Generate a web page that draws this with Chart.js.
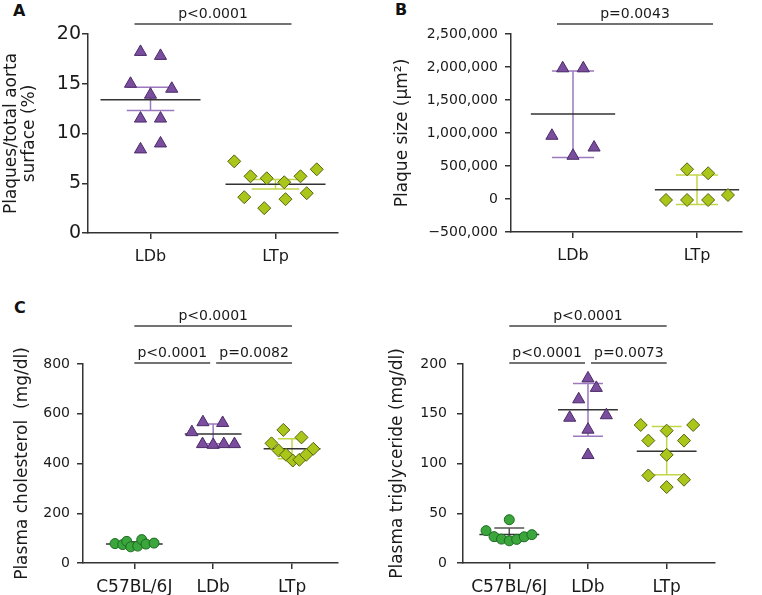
<!DOCTYPE html>
<html>
<head>
<meta charset="utf-8">
<script src="https://cdn.jsdelivr.net/npm/chart.js@4.4.1/dist/chart.umd.min.js"></script>
<style>
  body { margin: 0; background: #fff; width: 762px; height: 595px; position: relative; overflow: hidden; }
  canvas { position: absolute; }
  .lab { position: absolute; font-family: 'DejaVu Sans', sans-serif; font-weight: bold; font-size: 16px; line-height: 16px; color: #111; }
</style>
</head>
<body>
<div class="lab" style="left:13px;top:3px">A</div>
<div class="lab" style="left:395px;top:2px">B</div>
<div class="lab" style="left:14px;top:300px">C</div>
<canvas id="chartA" width="380" height="290" style="left:0;top:0"></canvas>
<canvas id="chartB" width="382" height="290" style="left:380px;top:0"></canvas>
<canvas id="chartC" width="380" height="305" style="left:0;top:290px"></canvas>
<canvas id="chartD" width="382" height="305" style="left:380px;top:290px"></canvas>
<script>
// group names on the x axes
const groupsAB = ['LDb', 'LTp'];
const groupsCD = ['C57BL/6J', 'LDb', 'LTp'];

// A - plaques / total aorta surface (%)
const aLDb = [18.2, 17.8, 15.0, 14.5, 13.9, 11.5, 11.5, 8.4, 9.0];
const aLDbJit = [-0.08, 0.08, -0.16, 0.17, 0, -0.08, 0.08, -0.08, 0.08];
const aLTp = [7.2, 5.7, 5.5, 5.1, 5.7, 6.4, 3.6, 2.5, 3.4, 4.0];
const aLTpJit = [-0.33, -0.2, -0.07, 0.07, 0.2, 0.33, -0.25, -0.09, 0.08, 0.25];
const aMean = [13.4, 4.9];
const aErr = [[12.3, 14.65], [4.43, 5.37]];   // mean +/- SEM
const sigA = [{from: 1, to: 2, level: 0, text: 'p<0.0001'}];

// B - plaque size (um2)
const bLDb = [1980000, 1980000, 958000, 655000, 780000];
const bLDbJit = [-0.083, 0.083, -0.17, 0, 0.17];
const bLTp = [-15000, -15000, -15000, 60000, 450000, 390000];
const bLTpJit = [-0.25, -0.08, 0.09, 0.25, -0.08, 0.09];
const bMean = [1286000, 140000];
const bErr = [[630000, 1940000], [-82000, 363000]];   // mean +/- SD
const sigB = [{from: 1, to: 2, level: 0, text: 'p=0.0043'}];

// C - plasma cholesterol (mg/dl)
const cC57 = [78, 74, 87, 65, 68, 94, 76, 80];
const cC57Jit = [-0.245, -0.147, -0.096, -0.046, 0.043, 0.094, 0.148, 0.25];
const cLDb = [526, 566, 563, 478, 475, 478, 478];
const cLDbJit = [-0.27, -0.13, 0.12, -0.135, 0, 0.135, 0.27];
const cLTp = [535, 481, 505, 452, 435, 412, 415, 435, 459];
const cLTpJit = [-0.11, -0.26, 0.12, -0.17, -0.076, 0.01, 0.093, 0.18, 0.27];
const cMean = [76, 519, 459];
const cErr = [[68, 85], [479, 559], [419, 499]];
const sigC = [
  {from: 1, to: 3, level: 1, text: 'p<0.0001'},
  {from: 1, to: 2, level: 0, text: 'p<0.0001'},
  {from: 2, to: 3, level: 0, text: 'p=0.0082'}
];

// D - plasma triglyceride (mg/dl)
const dC57 = [43.5, 32.5, 26.5, 24, 22.3, 23.7, 26.3, 28.5];
const dC57Jit = [0, -0.295, -0.194, -0.099, 0, 0.094, 0.19, 0.287];
const dLDb = [185.5, 176, 164.5, 146, 148.5, 134, 108.5];
const dLDbJit = [0, 0.106, -0.118, -0.232, 0.233, 0, 0];
const dLTp = [138.7, 138.7, 133, 123, 123, 108.7, 88, 83.7, 76.3];
const dLTpJit = [-0.33, 0.337, 0, -0.233, 0.22, 0, -0.233, 0.22, 0];
const dMean = [28.7, 154, 112.3];
const dErr = [[22, 35.3], [127.3, 180.3], [88.7, 137.3]];
const sigD = [
  {from: 1, to: 3, level: 1, text: 'p<0.0001'},
  {from: 1, to: 2, level: 0, text: 'p<0.0001'},
  {from: 2, to: 3, level: 0, text: 'p=0.0073'}
];

Chart.defaults.font.family = "'DejaVu Sans', sans-serif";
Chart.defaults.color = '#1a1a1a';

const look = {
  'LDb':      {style: 'triangle', r: 7,   fill: '#7b4d9e', edge: '#4a2b66', bar: '#9c78bf'},
  'LTp':      {style: 'rectRot',  r: 6.5, fill: '#aac61b', edge: '#56620f', bar: '#c3d648'},
  'C57BL/6J': {style: 'circle',   r: 5,   fill: '#3aa63b', edge: '#1d6a22', bar: '#555555'}
};

// significance brackets, drawn above the plot area
const sigPlugin = {
  id: 'sig',
  afterDraw(chart, args, opts) {
    const {ctx, chartArea} = chart;
    const x = chart.scales.x;
    ctx.save();
    ctx.strokeStyle = '#444';
    ctx.lineWidth = 1.5;
    ctx.fillStyle = '#1a1a1a';
    ctx.font = opts.size + "px 'DejaVu Sans', sans-serif";
    ctx.textAlign = 'center';
    ctx.textBaseline = 'alphabetic';
    opts.items.forEach(s => {
      const others = opts.items.filter(o => o !== s && o.level === s.level);
      let x1 = x.getPixelForValue(s.from) - opts.ext;
      let x2 = x.getPixelForValue(s.to) + opts.ext;
      if (others.some(o => o.to === s.from)) x1 += opts.gap;
      if (others.some(o => o.from === s.to)) x2 -= opts.gap;
      const y = chartArea.top - opts.rows[s.level];
      ctx.beginPath();
      ctx.moveTo(x1, y);
      ctx.lineTo(x2, y);
      ctx.stroke();
      ctx.fillText(s.text, (x1 + x2) / 2, y - 6);
    });
    ctx.restore();
  }
};

function buildDatasets(groups, values, jitters, means, errs, meanHalf, capHalf) {
  const sets = [];
  groups.forEach((g, i) => {
    const pos = i + 1;
    const st = look[g];
    const lo = errs[i][0], hi = errs[i][1];
    sets.push({
      data: [
        {x: pos - capHalf, y: hi}, {x: pos + capHalf, y: hi}, {x: pos, y: null},
        {x: pos, y: hi}, {x: pos, y: lo}, {x: pos, y: null},
        {x: pos - capHalf, y: lo}, {x: pos + capHalf, y: lo}
      ],
      showLine: true, spanGaps: false, borderColor: st.bar, borderWidth: 1.5,
      pointRadius: 0, order: 3
    });
    sets.push({
      data: [{x: pos - meanHalf, y: means[i]}, {x: pos + meanHalf, y: means[i]}],
      showLine: true, borderColor: '#333', borderWidth: 1.5, pointRadius: 0, order: 2
    });
    sets.push({
      data: values[i].map((v, k) => ({x: pos + jitters[i][k], y: v})),
      showLine: false, pointStyle: st.style, pointRadius: st.r,
      backgroundColor: st.fill, borderColor: st.edge, borderWidth: 1, order: 1
    });
  });
  return sets;
}

function panel(id, o) {
  const axisLine = {color: '#333', width: 1.5};
  const tickGrid = {drawOnChartArea: false, drawTicks: true, tickLength: 6, color: '#333', lineWidth: 1.5};
  return new Chart(document.getElementById(id), {
    type: 'scatter',
    data: {datasets: o.datasets},
    options: {
      responsive: false,
      animation: false,
      devicePixelRatio: 1,
      layout: {autoPadding: false, padding: o.pad},
      plugins: {
        legend: {display: false},
        tooltip: {enabled: false},
        sig: {items: o.sig, rows: o.rows, ext: o.ext, gap: 3, size: 14}
      },
      scales: {
        x: {
          type: 'linear', min: o.xMin, max: o.xMax,
          afterFit: s => { s.height = o.xH; },
          afterBuildTicks: s => { s.ticks = o.groups.map((g, i) => ({value: i + 1})); },
          grid: tickGrid,
          border: axisLine,
          ticks: {
            autoSkip: false, maxRotation: 0, padding: 8,
            font: {size: o.xFont},
            callback: v => o.groups[v - 1]
          }
        },
        y: {
          min: o.yMin, max: o.yMax,
          afterFit: s => { s.width = o.yW; },
          grid: tickGrid,
          border: axisLine,
          ticks: {
            stepSize: o.step, padding: o.yPad,
            font: {size: o.yFont},
            callback: o.fmt || (v => v)
          },
          title: {
            display: true, text: o.title,
            font: {size: 17, lineHeight: o.titleLH || 1.2},
            padding: {top: o.titlePad, bottom: 0}
          }
        }
      }
    },
    plugins: [sigPlugin]
  });
}

const fmtBig = v => v.toLocaleString('en-US').replace('-', '\u2212');

panel('chartA', {
  datasets: buildDatasets(groupsAB, [aLDb, aLTp], [aLDbJit, aLTpJit], aMean, aErr, 0.4, 0.19),
  groups: groupsAB, sig: sigA, rows: [10], ext: 16,
  pad: {left: 0, top: 34, right: 42, bottom: 0},
  xMin: 0.5, xMax: 2.5, xH: 57, xFont: 16,
  yMin: 0, yMax: 20, step: 5, yW: 88, yFont: 19, yPad: 1,
  title: ['Plaques/total aorta', 'surface (%)'], titleLH: 1.05, titlePad: 3
});

panel('chartB', {
  datasets: buildDatasets(groupsAB, [bLDb, bLTp], [bLDbJit, bLTpJit], bMean, bErr, 0.34, 0.17),
  groups: groupsAB, sig: sigB, rows: [10], ext: 16,
  pad: {left: 0, top: 34, right: 20, bottom: 0},
  xMin: 0.5, xMax: 2.363, xH: 58, xFont: 16,
  yMin: -500000, yMax: 2500000, step: 500000, yW: 131, yFont: 14, yPad: 7,
  fmt: fmtBig,
  title: 'Plaque size (\u00b5m\u00b2)', titlePad: 12
});

panel('chartC', {
  datasets: buildDatasets(groupsCD, [cC57, cLDb, cLTp], [cC57Jit, cLDbJit, cLTpJit], cMean, cErr, 0.36, 0.18),
  groups: groupsCD, sig: sigC, rows: [1, 38], ext: 0,
  pad: {left: 0, top: 74, right: 42, bottom: 0},
  xMin: 0.349, xMax: 3.583, xH: 32, xFont: 17,
  yMin: 0, yMax: 800, step: 200, yW: 83, yFont: 14, yPad: 7,
  title: 'Plasma cholesterol  (mg/dl)', titlePad: 12
});

panel('chartD', {
  datasets: buildDatasets(groupsCD, [dC57, dLDb, dLTp], [dC57Jit, dLDbJit, dLTpJit], dMean, dErr, 0.38, 0.19),
  groups: groupsCD, sig: sigD, rows: [1, 38], ext: 0,
  pad: {left: 0, top: 74, right: 47, bottom: 0},
  xMin: 0.412, xMax: 3.614, xH: 32, xFont: 17,
  yMin: 0, yMax: 200, step: 50, yW: 83, yFont: 14, yPad: 10,
  title: 'Plasma triglyceride (mg/dl)', titlePad: 7
});
</script>
</body>
</html>
